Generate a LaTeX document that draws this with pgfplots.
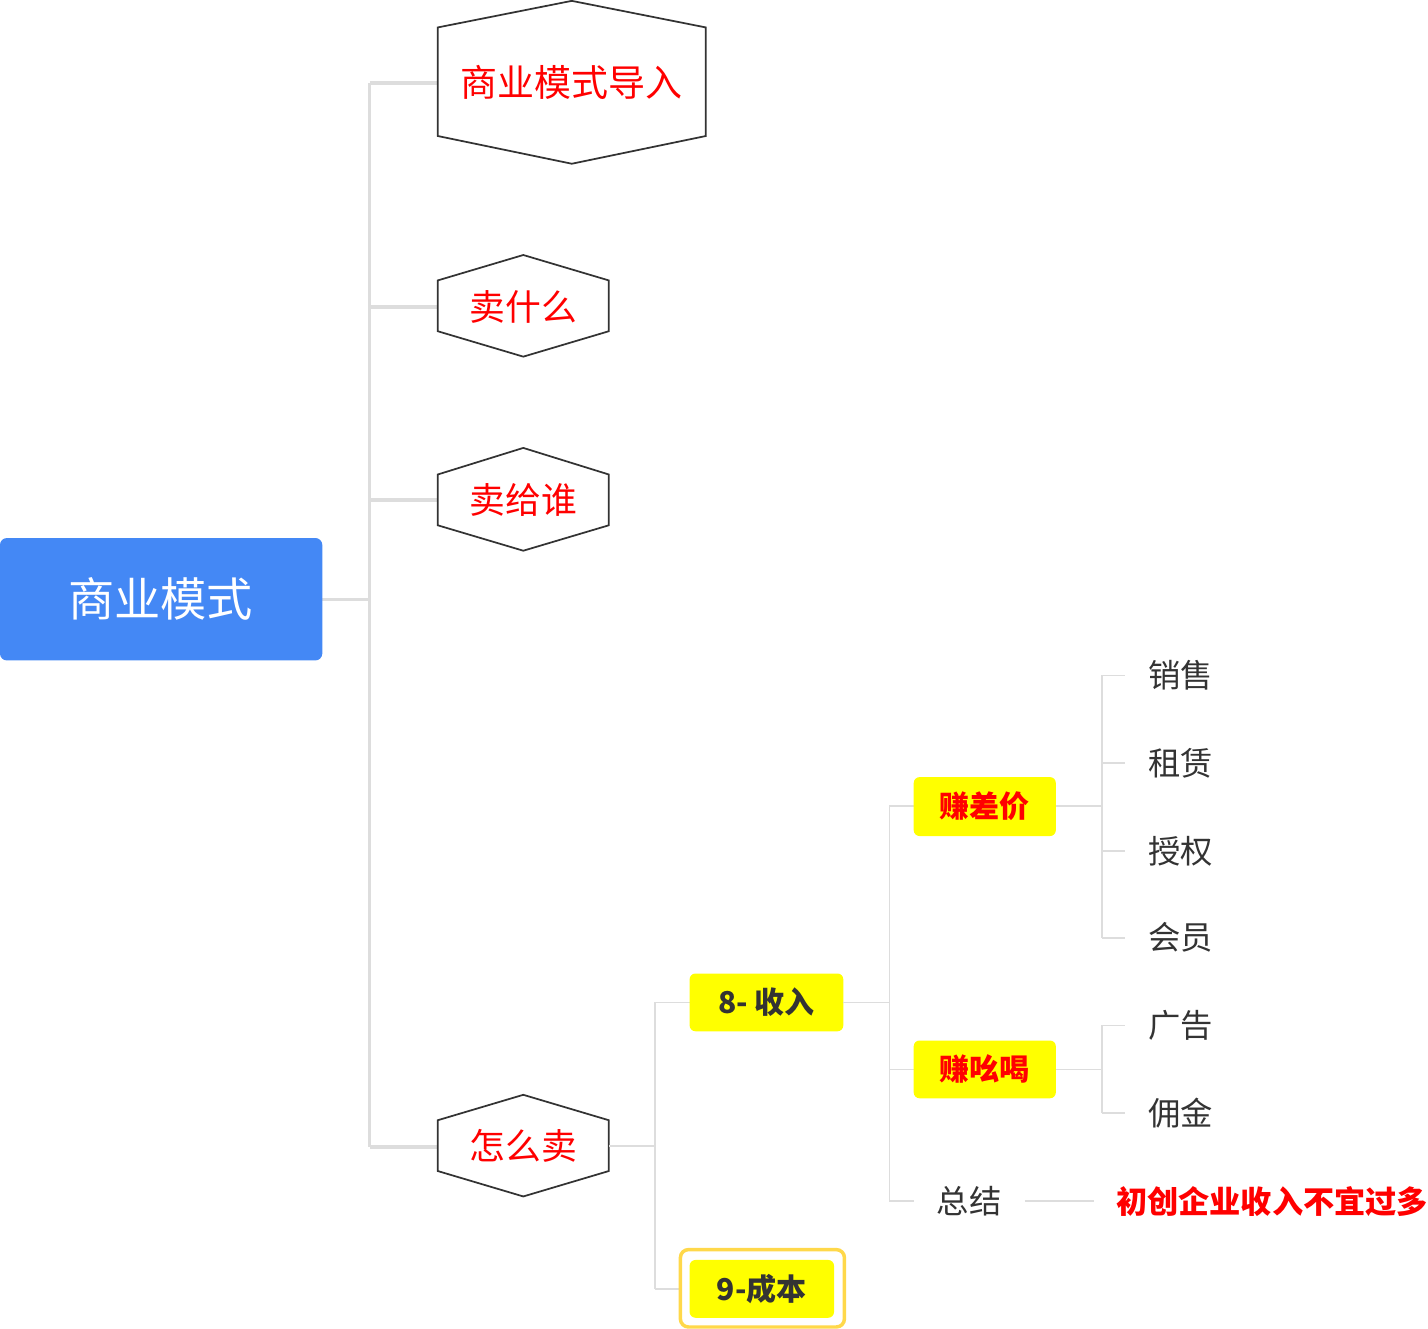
\documentclass[border=0pt]{standalone}
\usepackage{pgfplots}
\pgfplotsset{compat=1.18}
\usepackage{fontspec}
\setmainfont{Noto Sans CJK SC}
\definecolor{rootblue}{HTML}{4488F5}
\definecolor{ln}{HTML}{DDDDDD}
\definecolor{ylw}{HTML}{FFFF00}
\definecolor{ylb}{HTML}{FFD84A}
\definecolor{dk}{HTML}{333333}
\definecolor{rd}{HTML}{FF0000}
\begin{document}
\begin{tikzpicture}
\begin{axis}[width=1428pt,height=1310pt,scale only axis,xmin=0,xmax=1428,ymin=0,ymax=1310,y dir=reverse,axis lines=none,clip=false]
% connectors level 1
\draw[ln,line width=3pt] (360,598)--(401,598);
\draw[ln,line width=3pt] (401,151)--(401,1072);
\draw[ln,line width=3pt] (401,151)--(460,151);
\draw[ln,line width=3pt] (401,345)--(460,345);
\draw[ln,line width=3pt] (401,512)--(460,512);
\draw[ln,line width=3pt] (401,1072)--(460,1072);
% root
\fill[rootblue,rounded corners=6pt] (81,545) rectangle (360,651);
\node[white,font=\fontsize{40}{44}\selectfont] at (220,598) {商业模式};
% hexagons
\draw[dk,line width=1.5pt,fill=white] (460,103)--(576,80)--(692,103)--(692,197)--(576,221)--(460,197)--cycle;
\node[rd,font=\fontsize{32}{36}\selectfont] at (576,151) {商业模式导入};
\draw[dk,line width=1.5pt,fill=white] (460,322)--(534,300)--(608,322)--(608,366)--(534,388)--(460,366)--cycle;
\node[rd,font=\fontsize{31}{36}\selectfont] at (534,345) {卖什么};
\draw[dk,line width=1.5pt,fill=white] (460,490)--(534,467)--(608,490)--(608,534)--(534,556)--(460,534)--cycle;
\node[rd,font=\fontsize{31}{36}\selectfont] at (534,512) {卖给谁};
\draw[dk,line width=1.5pt,fill=white] (460,1049)--(534,1027)--(608,1049)--(608,1093)--(534,1115)--(460,1093)--cycle;
\node[rd,font=\fontsize{31}{36}\selectfont] at (534,1071) {怎么卖};
% level 2
\draw[ln,line width=1.5pt] (608,1071)--(648,1071);
\draw[ln,line width=1.5pt] (648,947)--(648,1195);
\draw[ln,line width=1.5pt] (648,947)--(678,947);
\draw[ln,line width=1.5pt] (648,1195)--(678,1195);
\fill[ylw,rounded corners=5pt] (678,922) rectangle (811,972);
\node[dk,font=\bfseries\fontsize{26}{30}\selectfont] at (744.5,947) {8- 收入};
\draw[ylb,line width=3pt,rounded corners=7pt,fill=white] (670,1161) rectangle (812,1228);
\fill[ylw,rounded corners=5pt] (678,1170) rectangle (803,1220);
\node[dk,font=\bfseries\fontsize{26}{30}\selectfont] at (740.5,1195) {9-成本};
% level 3
\draw[ln,line width=1.5pt] (811,947)--(851,947);
\draw[ln,line width=1.5pt] (851,777)--(851,1119);
\draw[ln,line width=1.5pt] (851,777)--(872,777);
\draw[ln,line width=1.5pt] (851,1005)--(872,1005);
\draw[ln,line width=1.5pt] (851,1119)--(872,1119);
\fill[ylw,rounded corners=5pt] (872,752) rectangle (995,803);
\node[rd,font=\bfseries\fontsize{26}{30}\selectfont] at (933.5,777) {赚差价};
\fill[ylw,rounded corners=5pt] (872,980) rectangle (995,1030);
\node[rd,font=\bfseries\fontsize{26}{30}\selectfont] at (933.5,1005) {赚吆喝};
\node[dk,font=\fontsize{28}{32}\selectfont] at (920,1119) {总结};
\draw[ln,line width=1.5pt] (968,1119)--(1028,1119);
\node[rd,anchor=west,inner sep=0pt,font=\bfseries\fontsize{27}{30}\selectfont] at (1047,1119) {初创企业收入不宜过多};
% level 4
\draw[ln,line width=1.5pt] (995,777)--(1035,777);
\draw[ln,line width=1.5pt] (1035,664)--(1035,891);
\draw[ln,line width=1.5pt] (995,1005)--(1035,1005);
\draw[ln,line width=1.5pt] (1035,967)--(1035,1043);
\draw[ln,line width=1.5pt] (1035,664)--(1055,664);
\draw[ln,line width=1.5pt] (1035,740)--(1055,740);
\draw[ln,line width=1.5pt] (1035,816)--(1055,816);
\draw[ln,line width=1.5pt] (1035,891)--(1055,891);
\draw[ln,line width=1.5pt] (1035,967)--(1055,967);
\draw[ln,line width=1.5pt] (1035,1043)--(1055,1043);
\node[dk,anchor=west,inner sep=0pt,font=\fontsize{28}{32}\selectfont] at (1075,664) {销售};
\node[dk,anchor=west,inner sep=0pt,font=\fontsize{28}{32}\selectfont] at (1075,740) {租赁};
\node[dk,anchor=west,inner sep=0pt,font=\fontsize{28}{32}\selectfont] at (1075,816) {授权};
\node[dk,anchor=west,inner sep=0pt,font=\fontsize{28}{32}\selectfont] at (1075,891) {会员};
\node[dk,anchor=west,inner sep=0pt,font=\fontsize{28}{32}\selectfont] at (1075,967) {广告};
\node[dk,anchor=west,inner sep=0pt,font=\fontsize{28}{32}\selectfont] at (1075,1043) {佣金};
\end{axis}
\end{tikzpicture}
\end{document}
